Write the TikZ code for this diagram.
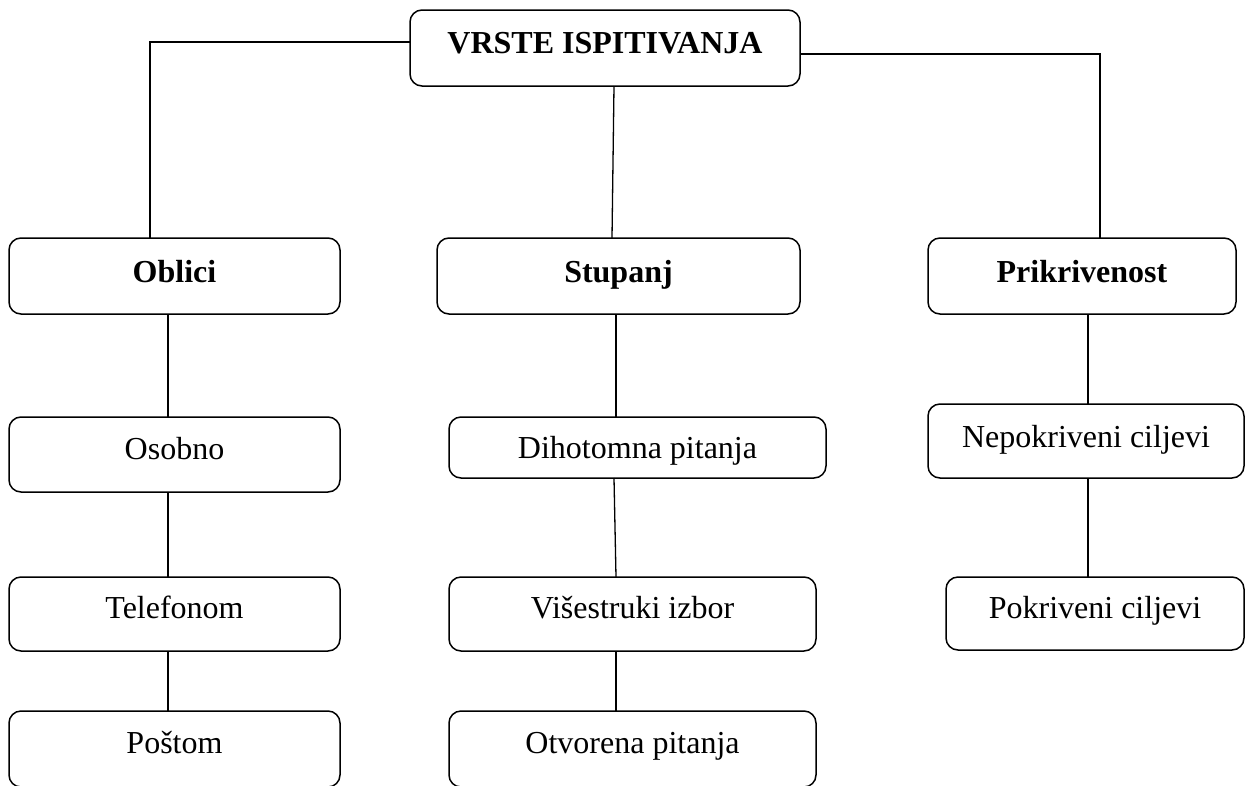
\documentclass[tikz,border=0pt]{standalone}
\usepackage{fontspec}
\setmainfont{Liberation Serif}
\begin{document}
\begin{tikzpicture}[x=1pt,y=-1pt,
  box/.style={draw, line width=1.5pt, rounded corners=12pt, inner sep=0pt, outer sep=0pt,
    anchor=base, align=center, font=\fontsize{32}{38}\selectfont},
  hd/.style={box, font=\fontsize{32}{38}\selectfont\bfseries},
  conn/.style={line width=1.3pt}]
\clip (0,0) rectangle (1245,785);
\fill[white] (0,0) rectangle (1245,785);
% nodes: (center x, baseline), width, text height (base-top), text depth (bottom-base)
\node[hd, minimum width=390pt, text height=43pt, text depth=33pt] (vrste) at (605,53) {VRSTE ISPITIVANJA};
\node[hd, minimum width=331pt, text height=44pt, text depth=32pt] (oblici) at (174.5,282) {Oblici};
\node[hd, minimum width=363pt, text height=44pt, text depth=32pt] (stupanj) at (618.5,282) {Stupanj};
\node[hd, minimum width=308pt, text height=44pt, text depth=32pt] (prikr) at (1082,282) {Prikrivenost};
\node[box, minimum width=331pt, text height=42pt, text depth=33pt] (osobno) at (174.5,459) {Osobno};
\node[box, minimum width=331pt, text height=41pt, text depth=33pt] (telefonom) at (174.5,618) {Telefonom};
\node[box, minimum width=331pt, text height=42pt, text depth=34pt] (postom) at (174.5,753) {Poštom};
\node[box, minimum width=377pt, text height=41pt, text depth=20pt] (dihot) at (637.5,458) {Dihotomna pitanja};
\node[box, minimum width=367pt, text height=41pt, text depth=33pt] (visestr) at (632.5,618) {Višestruki izbor};
\node[box, minimum width=367pt, text height=42pt, text depth=34pt] (otvor) at (632.5,753) {Otvorena pitanja};
\node[box, minimum width=316pt, text height=43pt, text depth=31pt] (nepokr) at (1086,447) {Nepokriveni ciljevi};
\node[box, minimum width=298pt, text height=41pt, text depth=32pt] (pokr) at (1095,618) {Pokriveni ciljevi};
% connectors
\draw[conn] ([yshift=6pt]vrste.west) -| ([xshift=-24.5pt]oblici.north);
\draw[conn] ([yshift=-6pt]vrste.east) -| ([xshift=18pt]prikr.north);
\draw[conn] ([xshift=9pt]vrste.south) -- ([xshift=-6.5pt]stupanj.north);
\draw[conn] ([xshift=-6.5pt]oblici.south) -- ([xshift=-6.5pt]osobno.north);
\draw[conn] ([xshift=-6.5pt]osobno.south) -- ([xshift=-6.5pt]telefonom.north);
\draw[conn] ([xshift=-6.5pt]telefonom.south) -- ([xshift=-6.5pt]postom.north);
\draw[conn] ([xshift=-2.5pt]stupanj.south) -- ([xshift=-21.5pt]dihot.north);
\draw[conn] ([xshift=-23.5pt]dihot.south) -- ([xshift=-16.5pt]visestr.north);
\draw[conn] ([xshift=-16.5pt]visestr.south) -- ([xshift=-16.5pt]otvor.north);
\draw[conn] ([xshift=6pt]prikr.south) -- ([xshift=2pt]nepokr.north);
\draw[conn] ([xshift=2pt]nepokr.south) -- ([xshift=-7pt]pokr.north);
\end{tikzpicture}
\end{document}
